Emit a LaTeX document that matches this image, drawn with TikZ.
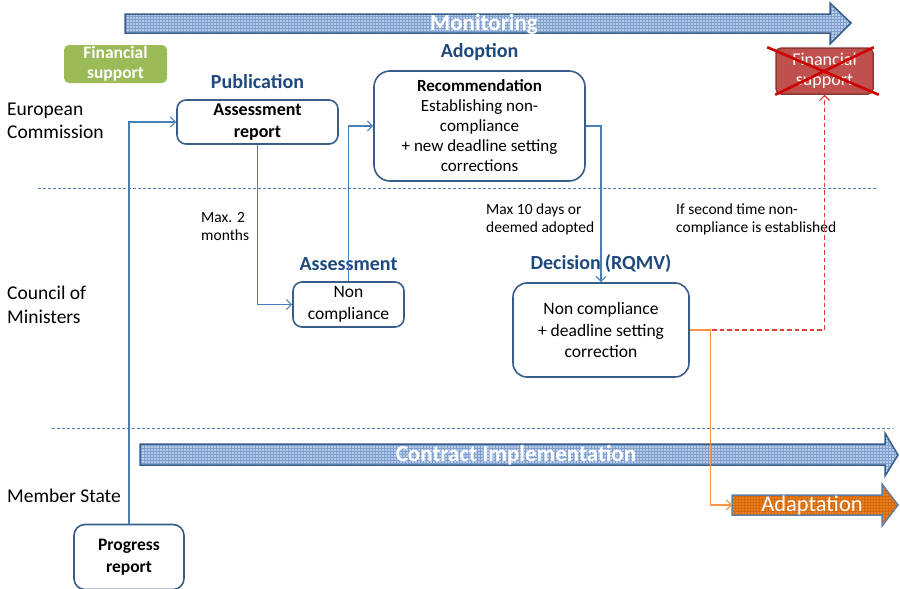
\documentclass[tikz,border=0pt]{standalone}
\usepackage{fontspec}
\setmainfont{Carlito}
\usepackage{xcolor}
\usetikzlibrary{positioning,arrows.meta,patterns}
\definecolor{CBorder}{HTML}{385D8A}
\definecolor{CHead}{HTML}{1F497D}
\definecolor{CLink}{HTML}{4A7EBB}
\definecolor{CSep}{HTML}{4F81BD}
\definecolor{CArrowFill}{HTML}{BACDE7}
\definecolor{CArrowGrid}{HTML}{7F9FD0}
\definecolor{COrange}{HTML}{F07D18}
\definecolor{COrangeGrid}{HTML}{CF6A10}
\definecolor{CGreen}{HTML}{9BBB59}
\definecolor{CRed}{HTML}{C0504D}
\definecolor{CRedEdge}{HTML}{8C3836}
\definecolor{CCross}{HTML}{CC0000}
\definecolor{CDash}{HTML}{E03C3C}
\definecolor{CLinkOrange}{HTML}{F79646}

\begin{document}
\begin{tikzpicture}[x=1pt, y=-1pt,
    every node/.style={align=center},
    box/.style={draw=CBorder, line width=1.6pt, rounded corners=9pt, fill=white,
      inner sep=2pt, font=\fontsize{17.5}{20}\selectfont},
    heading/.style={text=CHead, inner sep=1pt, font=\fontsize{20}{22}\selectfont\bfseries},
    lane/.style={anchor=west, align=left, inner sep=0pt, font=\fontsize{19.5}{23.5}\selectfont},
    note/.style={anchor=west, align=left, inner sep=0pt, font=\fontsize{15.5}{18}\selectfont},
    sep/.style={CSep, line width=0.9pt, dash pattern=on 3pt off 2pt},
    link/.style={CLink, line width=1.2pt, -{Straight Barb[length=5pt,width=10pt]}},
    bluearrow/.style={draw=CBorder, line width=1.5pt, preaction={fill=CArrowFill},
      pattern=grid, pattern color=CArrowGrid},
    orangearrow/.style={draw=CBorder!80, line width=1.5pt, preaction={fill=COrange},
      pattern=grid, pattern color=COrangeGrid},
    arrowtext/.style={text=white, inner sep=0pt, font=\fontsize{23}{24}\selectfont\bfseries},
    finbox/.style={text=white, rounded corners=5pt, inner sep=0pt,
      font=\fontsize{18}{20}\selectfont}]
  \useasboundingbox (0,0) rectangle (900,589);

  % big process arrows
  \draw[bluearrow] (125,14) -- (830,14) -- (830,3) -- (851,23) -- (830,44) -- (830,33) -- (125,33) -- cycle;
  \node[arrowtext] (monlbl) at (484,24) {Monitoring};
  \draw[bluearrow] (140,444) -- (885,444) -- (885,433) -- (898,455) -- (885,476) -- (885,465) -- (140,465) -- cycle;
  \node[arrowtext] (contlbl) at (516,455) {Contract Implementation};
  \draw[orangearrow] (732,495) -- (882,495) -- (882,484) -- (898,505) -- (882,526) -- (882,515) -- (732,515) -- cycle;
  \coordinate (adaptin) at (732,505);
  \node[arrowtext, font=\fontsize{22.5}{24}\selectfont] (adaptlbl) at (812,505) {Adaptation};

  % lanes
  \node[lane] (ec) at (7,121) {European\\Commission};
  \node[lane] (cm) at (7,305) {Council of\\Ministers};
  \node[lane] (ms) at (7,496) {Member State};
  \draw[sep] (38,188) -- (878,188);
  \draw[sep] (52,428) -- (893,428);

  % financial support
  \node[finbox, fill=CGreen, minimum width=103pt, minimum height=38pt,
    font=\fontsize{17.5}{20}\selectfont\bfseries] (finok) at (115.5,64) {Financial\\support};
  \node[finbox, fill=CRed, draw=CRedEdge, line width=1.5pt,
    minimum width=97pt, minimum height=46pt] (finx) at (824.5,71) {Financial\\support};
  \draw[CCross, line width=2.6pt] ([xshift=-8pt]finx.north west) -- ([xshift=5pt]finx.south east);
  \draw[CCross, line width=2.6pt] (finx.north east) -- (finx.south west);

  % steps
  \node[box, minimum width=161pt, minimum height=44pt,
    font=\fontsize{18}{22}\selectfont\bfseries] (assess) at (257.5,122) {Assessment\\report};
  \node[box, rounded corners=16pt, minimum width=211pt, minimum height=110pt,
    font=\fontsize{17}{20}\selectfont] (recomm) at (479.5,126)
    {\textbf{Recommendation}\\Establishing non-\\compliance\\+ new deadline setting\\corrections};
  \node[box, minimum width=111pt, minimum height=45pt,
    font=\fontsize{17.5}{22}\selectfont] (noncomp) at (348.5,304.5) {Non\\compliance};
  \node[box, rounded corners=14pt, minimum width=176pt, minimum height=94pt,
    font=\fontsize{17.5}{21.5}\selectfont] (decision) at (601,330) {Non compliance\\+ deadline setting\\correction};
  \node[box, rounded corners=11pt, minimum width=110pt, minimum height=65pt,
    font=\fontsize{17.5}{22}\selectfont\bfseries] (progress) at (129,557) {Progress\\report};

  \node[heading, above=9pt of assess] (publbl) {Publication};
  \node[heading, above=8pt of recomm] (adoplbl) {Adoption};
  \node[heading, above=9pt of noncomp] (asslbl) {Assessment};
  \node[heading, above=8pt of decision] (declbl) {Decision\hspace{4pt}(RQMV)};

  % notes
  \node[note] (n1) at (201,227) {Max. 2\\months};
  \node[note] (n2) at (486,219) {Max 10 days or\\deemed adopted};
  \node[note] (n3) at (676,219) {If second time non-\\compliance is established};

  % connectors
  \draw[link] (progress.north) |- (assess.west);
  \draw[link] (assess.south) |- (noncomp.west);
  \draw[link] (noncomp.north) |- (recomm.west);
  \draw[link] (recomm.east) -| (decision.north);
  \draw[CDash, line width=1.2pt, dash pattern=on 4.5pt off 3pt,
    -{Straight Barb[length=5pt,width=10pt]}] (decision.east) -| (finx.south);
  \draw[CLinkOrange, line width=1.2pt, -{Straight Barb[length=5pt,width=10pt]}]
    (decision.east) -- ++(21,0) |- (adaptin);
\end{tikzpicture}
\end{document}
